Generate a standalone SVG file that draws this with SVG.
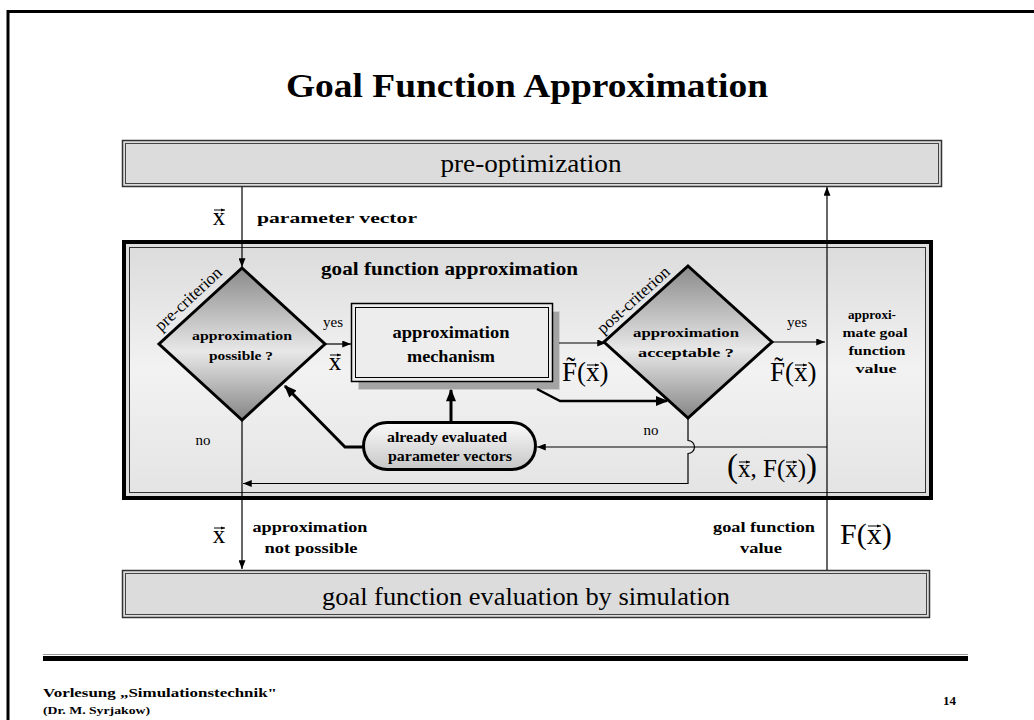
<svg xmlns="http://www.w3.org/2000/svg" width="1034" height="720" viewBox="0 0 1034 720">
  <style>
    .ser { font-family: "Liberation Serif", "DejaVu Serif", serif; fill: #000; }
    .bold { font-weight: bold; }
    .mid { text-anchor: middle; }
    .thin { fill: none; stroke: #000; stroke-width: 1.2; }
    .thick { fill: none; stroke: #000; stroke-width: 3; }
    .acc { fill: none; stroke: #000; stroke-width: 1; marker-end: url(#accHead); }
  </style>
  <defs>
    <marker id="ah" viewBox="0 0 10 8" refX="10" refY="4" markerWidth="9" markerHeight="7" markerUnits="userSpaceOnUse" orient="auto">
      <path d="M0,0 L10,4 L0,8 z" fill="#000"/>
    </marker>
    <marker id="ahBig" viewBox="0 0 10 8" refX="9" refY="4" markerWidth="13" markerHeight="10" markerUnits="userSpaceOnUse" orient="auto">
      <path d="M0,0 L10,4 L0,8 z" fill="#000"/>
    </marker>
    <!-- small head for the vector accents over x -->
    <marker id="accHead" viewBox="0 0 10 8" refX="10" refY="4" markerWidth="4" markerHeight="3.4" markerUnits="userSpaceOnUse" orient="auto">
      <path d="M0,0 L10,4 L0,8 z" fill="#000"/>
    </marker>
    <linearGradient id="gDiamond" x1="0" y1="0" x2="0" y2="1">
      <stop offset="0" stop-color="#8a8a8a"/>
      <stop offset="0.55" stop-color="#e8e8e8"/>
      <stop offset="1" stop-color="#858585"/>
    </linearGradient>
    <linearGradient id="gPanel" x1="0" y1="0" x2="0" y2="1">
      <stop offset="0" stop-color="#dcdcdc"/>
      <stop offset="0.5" stop-color="#f2f2f2"/>
      <stop offset="1" stop-color="#e4e4e4"/>
    </linearGradient>
    <linearGradient id="gStore" x1="0" y1="0" x2="0" y2="1">
      <stop offset="0" stop-color="#fbfbfb"/>
      <stop offset="1" stop-color="#c6c6c6"/>
    </linearGradient>
  </defs>

  <!-- page frame -->
  <path d="M8,720 V11.5 H1034" fill="none" stroke="#000" stroke-width="3"/>

  <!-- title -->
  <text class="ser bold" x="286" y="97" font-size="34" textLength="482" lengthAdjust="spacingAndGlyphs">Goal Function Approximation</text>

  <!-- pre-optimization -->
  <g id="pre-optimization">
    <rect x="122.5" y="140.5" width="819" height="46" fill="#dcdcdc" stroke="#333" stroke-width="1.5"/>
    <rect x="125.5" y="143.5" width="813" height="40" fill="none" stroke="#444" stroke-width="1"/>
    <text class="ser mid" x="531" y="172" font-size="25" textLength="181" lengthAdjust="spacingAndGlyphs">pre-optimization</text>
  </g>

  <!-- goal function approximation panel -->
  <g id="approximation-panel">
    <rect x="124" y="242" width="807" height="256" fill="#dedede" stroke="#000" stroke-width="4"/>
    <rect x="129.5" y="247.5" width="796" height="245" fill="url(#gPanel)" stroke="#333" stroke-width="1"/>
    <text class="ser bold" x="321" y="275" font-size="19" textLength="257" lengthAdjust="spacingAndGlyphs">goal function approximation</text>
  </g>

  <!-- pre-criterion decision -->
  <g id="pre-criterion">
    <polygon points="242,268 325,344 242,420 159,344" fill="url(#gDiamond)" stroke="#000" stroke-width="3"/>
    <text class="ser bold mid" x="242" y="340" font-size="13" textLength="100" lengthAdjust="spacingAndGlyphs">approximation</text>
    <text class="ser bold mid" x="241" y="360" font-size="13" textLength="64" lengthAdjust="spacingAndGlyphs">possible ?</text>
    <text class="ser mid" x="192" y="303" font-size="17" transform="rotate(-43 192 303)">pre-criterion</text>
  </g>

  <!-- approximation mechanism -->
  <g id="mechanism">
    <rect x="358.5" y="311.5" width="201" height="78" fill="#a3a3a3" stroke="#cfcfcf" stroke-width="1"/>
    <rect x="351.5" y="303.5" width="201" height="78" fill="#ededed" stroke="#000" stroke-width="1.5"/>
    <rect x="355.5" y="307.5" width="193" height="70" fill="none" stroke="#000" stroke-width="1"/>
    <text class="ser bold mid" x="451" y="338" font-size="16" textLength="117" lengthAdjust="spacingAndGlyphs">approximation</text>
    <text class="ser bold mid" x="451" y="362" font-size="16" textLength="88" lengthAdjust="spacingAndGlyphs">mechanism</text>
  </g>

  <!-- post-criterion decision -->
  <g id="post-criterion">
    <polygon points="688,266 772,342 688,418 604,342" fill="url(#gDiamond)" stroke="#000" stroke-width="3"/>
    <text class="ser bold mid" x="686" y="337" font-size="13" textLength="106" lengthAdjust="spacingAndGlyphs">approximation</text>
    <text class="ser bold mid" x="686" y="357" font-size="13" textLength="96" lengthAdjust="spacingAndGlyphs">acceptable ?</text>
    <text class="ser mid" x="637" y="304" font-size="17" transform="rotate(-42 637 304)">post-criterion</text>
  </g>

  <!-- store of evaluated vectors -->
  <g id="evaluated-store">
    <rect x="363.5" y="422.5" width="172" height="47" rx="23.5" ry="23.5" fill="url(#gStore)" stroke="#000" stroke-width="3"/>
    <text class="ser bold mid" x="447" y="442" font-size="14" textLength="120" lengthAdjust="spacingAndGlyphs">already evaluated</text>
    <text class="ser bold mid" x="450" y="461" font-size="14" textLength="124" lengthAdjust="spacingAndGlyphs">parameter vectors</text>
  </g>

  <!-- right column of the panel -->
  <g id="approx-value">
    <text class="ser bold mid" x="872" y="319" font-size="13" textLength="48" lengthAdjust="spacingAndGlyphs">approxi-</text>
    <text class="ser bold mid" x="875" y="337" font-size="13" textLength="65" lengthAdjust="spacingAndGlyphs">mate goal</text>
    <text class="ser bold mid" x="877" y="355" font-size="13" textLength="57" lengthAdjust="spacingAndGlyphs">function</text>
    <text class="ser bold mid" x="876" y="373" font-size="13" textLength="41" lengthAdjust="spacingAndGlyphs">value</text>
  </g>

  <!-- goal function evaluation -->
  <g id="simulation">
    <rect x="122.5" y="570.5" width="807" height="47" fill="#dcdcdc" stroke="#333" stroke-width="1.5"/>
    <rect x="125.5" y="573.5" width="801" height="41" fill="none" stroke="#444" stroke-width="1"/>
    <text class="ser mid" x="526" y="605" font-size="25" textLength="408" lengthAdjust="spacingAndGlyphs">goal function evaluation by simulation</text>
  </g>

  <!-- connectors -->
  <g id="connectors">
    <line class="thin" x1="242" y1="187" x2="242" y2="267" marker-end="url(#ah)"/>
    <line class="thin" x1="325" y1="344" x2="351" y2="344" marker-end="url(#ah)"/>
    <line class="thin" x1="559" y1="343" x2="606" y2="343" stroke-width="1.5" marker-end="url(#ah)"/>
    <path d="M537,389 L560,401 H667" fill="none" stroke="#000" stroke-width="2.5" marker-end="url(#ahBig)"/>
    <line class="thin" x1="772" y1="342" x2="825" y2="342" marker-end="url(#ah)"/>
    <line class="thin" x1="827" y1="570" x2="827" y2="187" marker-end="url(#ah)"/>
    <line class="thin" x1="827" y1="447" x2="537" y2="447" marker-end="url(#ah)"/>
    <path class="thin" d="M688,418 V440.5 A6.5,6.5 0 0 1 688,453.5 V483.5 H243" marker-end="url(#ah)"/>
    <line class="thin" x1="242" y1="420" x2="242" y2="569" marker-end="url(#ah)"/>
    <line class="thick" x1="451" y1="422" x2="451" y2="390" marker-end="url(#ahBig)"/>
    <path class="thick" d="M363,447 H345 L285,386" marker-end="url(#ahBig)"/>
  </g>

  <!-- connector labels -->
  <g id="labels">
    <text class="ser mid" x="219" y="225" font-size="25">x</text>
    <text class="ser bold" x="257" y="223" font-size="15" textLength="160" lengthAdjust="spacingAndGlyphs">parameter vector</text>

    <text class="ser mid" x="333" y="327" font-size="15">yes</text>
    <text class="ser mid" x="335" y="370" font-size="25">x</text>

    <text class="ser" x="562" y="381" font-size="27">F̃(x)</text>

    <text class="ser mid" x="797" y="327" font-size="15">yes</text>
    <text class="ser" x="770" y="381" font-size="27">F̃(x)</text>

    <text class="ser mid" x="651" y="435" font-size="15">no</text>
    <text class="ser mid" x="203" y="445" font-size="15">no</text>

    <text class="ser" x="727" y="477" font-size="25"><tspan font-size="33">(</tspan>x, F(x)<tspan font-size="33">)</tspan></text>

    <text class="ser mid" x="219" y="543" font-size="25">x</text>
    <text class="ser bold mid" x="310" y="532" font-size="15" textLength="115" lengthAdjust="spacingAndGlyphs">approximation</text>
    <text class="ser bold mid" x="311" y="553" font-size="15" textLength="93" lengthAdjust="spacingAndGlyphs">not possible</text>

    <text class="ser bold mid" x="764" y="532" font-size="14" textLength="102" lengthAdjust="spacingAndGlyphs">goal function</text>
    <text class="ser bold mid" x="761" y="553" font-size="14" textLength="42" lengthAdjust="spacingAndGlyphs">value</text>
    <text class="ser" x="840" y="544" font-size="30">F(x)</text>
  </g>

  <!-- vector accents over the x symbols -->
  <g id="vector-accents">
    <line class="acc" x1="214" y1="210" x2="225" y2="210"/>
    <line class="acc" x1="330" y1="355" x2="341" y2="355"/>
    <line class="acc" x1="214" y1="528" x2="225" y2="528"/>
    <line class="acc" x1="587" y1="365" x2="599" y2="365"/>
    <line class="acc" x1="795" y1="365" x2="807" y2="365"/>
    <line class="acc" x1="739" y1="462" x2="750" y2="462"/>
    <line class="acc" x1="786" y1="462" x2="797" y2="462"/>
    <line class="acc" x1="868" y1="526" x2="881" y2="526"/>
  </g>

  <!-- footer -->
  <g id="footer">
    <line x1="43" y1="654.5" x2="968" y2="654.5" stroke="#999" stroke-width="1"/>
    <rect x="43" y="656" width="925" height="5" fill="#000"/>
    <text class="ser bold" x="43" y="697" font-size="13" textLength="234" lengthAdjust="spacingAndGlyphs">Vorlesung „Simulationstechnik"</text>
    <text class="ser bold" x="43" y="714" font-size="10" textLength="107" lengthAdjust="spacingAndGlyphs">(Dr. M. Syrjakow)</text>
    <text class="ser bold" x="943" y="705" font-size="13">14</text>
  </g>
</svg>
